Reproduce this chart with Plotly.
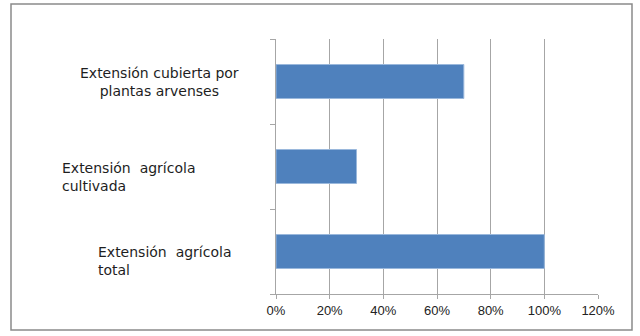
import plotly.graph_objects as go

categories = ["Extensión agrícola total", "Extensión agrícola cultivada",
              "Extensión cubierta por plantas arvenses"]
values = [1.00, 0.30, 0.70]
label_texts = ["Extensión\u00a0\u00a0agrícola<br>total",
               "Extensión\u00a0\u00a0agrícola<br>cultivada",
               "Extensión cubierta por<br>plantas arvenses"]
x_ticks = [0, 0.2, 0.4, 0.6, 0.8, 1.0, 1.2]
x_tick_labels = ["0%", "20%", "40%", "60%", "80%", "100%", "120%"]

L, R, T, B = 276, 42, 39, 42
W, H = 640, 336
pw, ph = W - L - R, H - T - B

def px_x(px):
    return (px - L) / pw

def px_y(py):
    return (H - B - py) / ph

fig = go.Figure(go.Bar(
    y=categories, x=values, orientation="h",
    marker=dict(color="#4f81bd", line=dict(color="#9ab8dc", width=1)),
    width=0.4,
    hoverinfo="skip",
))

ann_cfg = [
    dict(x=px_x(96), xanchor="left", align="left", yshift=-9),
    dict(x=px_x(60), xanchor="left", align="left", yshift=-10),
    dict(x=px_x(159), xanchor="center", align="center", yshift=0),
]
annotations = []
for cat, txt, cfg in zip(categories, label_texts, ann_cfg):
    annotations.append(dict(
        xref="paper", yref="y", y=cat, text=txt, showarrow=False,
        yanchor="middle", font=dict(family="DejaVu Sans", size=14, color="#1e1e1e"),
        **cfg))

fig.update_layout(
    width=W, height=H,
    margin=dict(l=L, r=R, t=T, b=B, pad=0),
    paper_bgcolor="white", plot_bgcolor="white",
    showlegend=False,
    bargap=0.6,
    annotations=annotations,
    shapes=[dict(type="rect", xref="paper", yref="paper",
                 x0=px_x(11), x1=px_x(632), y0=px_y(330), y1=px_y(4),
                 line=dict(color="#8a8a8a", width=1.5), fillcolor="rgba(0,0,0,0)",
                 layer="below")],
    xaxis=dict(range=[0, 1.2], tickvals=x_ticks, ticktext=x_tick_labels,
               showgrid=True, gridcolor="#a6a6a6", gridwidth=1,
               zeroline=False, showline=True, linecolor="#a6a6a6", linewidth=1,
               ticks="outside", ticklen=4, tickcolor="#a6a6a6",
               tickfont=dict(family="Liberation Sans", size=13, color="#222")),
    yaxis=dict(type="category", categoryorder="array", categoryarray=categories,
               showticklabels=False, showgrid=False, zeroline=False,
               showline=True, linecolor="#a6a6a6", linewidth=1,
               ticks="outside", ticklen=5, tickcolor="#a6a6a6",
               tickson="boundaries"),
)

fig.write_html("out.html", config={"displayModeBar": False},
               post_script="document.body.style.margin='0';document.body.style.overflow='hidden';")
